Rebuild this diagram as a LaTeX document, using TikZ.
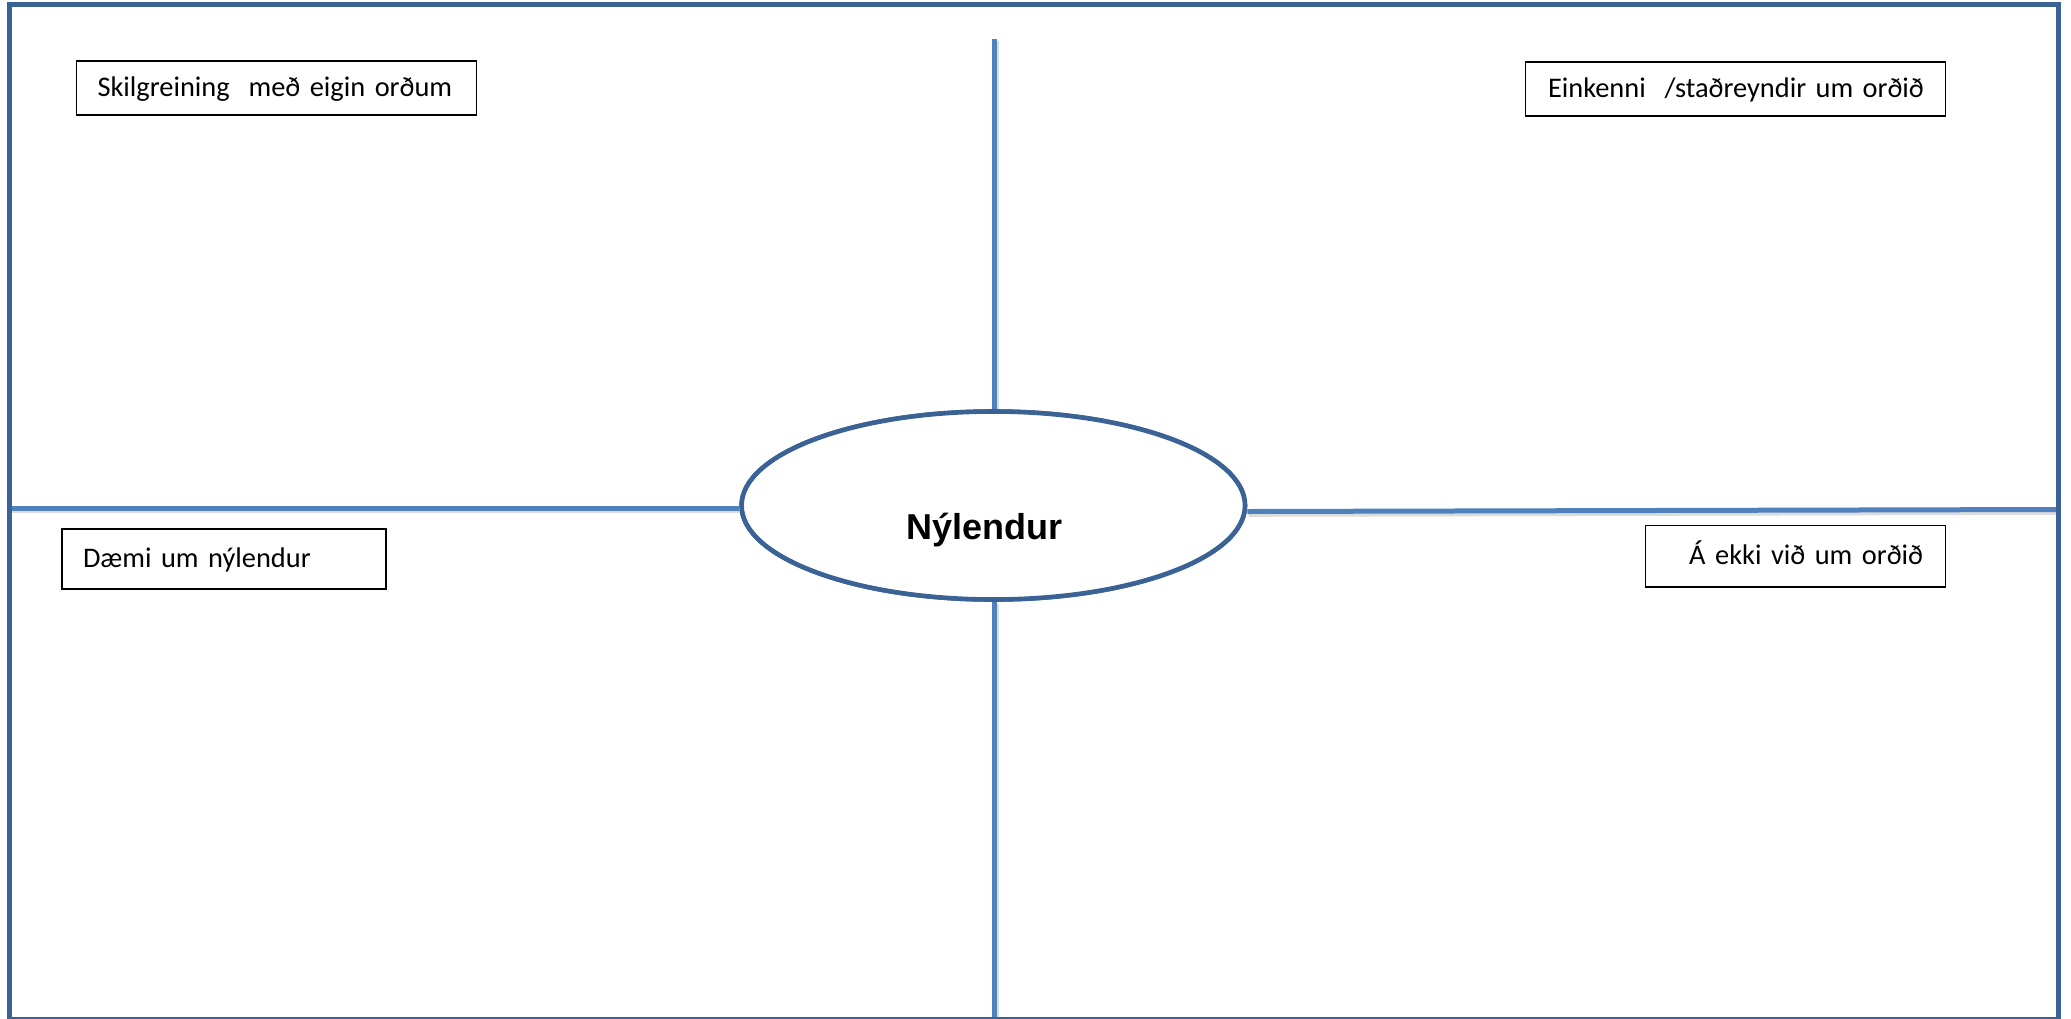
\documentclass[tikz,border=0pt]{standalone}
\usepackage{fontspec}
\setmainfont{Carlito}
\newfontfamily\headfont{Liberation Sans}
\usetikzlibrary{shapes.geometric}
\definecolor{framecol}{RGB}{58,98,148}
\definecolor{linecol}{RGB}{79,129,189}
\tikzset{
  frame/.style={draw=framecol, line width=2.5pt},
  axisline/.style={draw=linecol, line width=2.5pt,
    preaction={draw=black!30, opacity=0.45, line width=3.5pt,
      transform canvas={xshift=0.7pt,yshift=-0.9pt}}},
  hub/.style={ellipse, draw=framecol, line width=2.3pt, fill=white, inner sep=0pt,
    minimum width=251.7pt, minimum height=94pt},
  labelbox/.style={draw=black, line width=0.7pt, inner ysep=0pt,
    text height=11pt, text depth=3pt, font=\fontsize{14.2}{17}\selectfont},
}
\begin{document}
\begin{tikzpicture}[x=0.5pt,y=-0.5pt]
\useasboundingbox (0,0) rectangle (2071,1018);
\clip (0,0) rectangle (2071,1018);
\fill[white] (0,0) rectangle (2071,1018);
% named line ends
\coordinate (topend) at (994.5,39);
\coordinate (botend) at (994.5,1030);
\coordinate (lftend) at (10,508);
\coordinate (rgtend) at (2057,509.5);
% hub
\node[hub] (e) at (993.3,505.5) {};
% lines
\draw[axisline] (topend) -- (topend |- e.north);
\draw[axisline] (botend |- e.south) -- (botend);
\draw[axisline] (lftend) -- (lftend -| e.west);
\draw[axisline] ([yshift=-3pt]e.east) -- (rgtend);
% hub redrawn above lines
\node[hub] at (e) {};
\node[anchor=base, inner sep=0pt, font=\headfont\bfseries\fontsize{18}{21}\selectfont] (t) at (984.7,539.3) {Nýlendur};
% frame
\draw[frame] (9.5,4) rectangle (2058.5,1019.5);
% label boxes
\node[labelbox, inner xsep=10.5pt, text width=179pt, align=left, minimum height=27pt] (b1) at (276.5,88) {\mbox{Skilgreining\ \ með eigin orðum}};
\node[labelbox, inner xsep=11.25pt, text width=187.5pt, align=left, minimum height=27pt] (b2) at (1735.5,89) {\mbox{Einkenni\ \ /staðreyndir um orðið}};
\node[labelbox, inner xsep=10.5pt, text width=141pt, align=left, minimum height=30pt] (b3) at (224,559) {\mbox{Dæmi um nýlendur}};
\node[labelbox, inner xsep=11.25pt, text width=127.5pt, align=right, minimum height=30.75pt] (b4) at (1795.6,556.3) {\mbox{Á ekki við um orðið}};
\end{tikzpicture}
\end{document}
